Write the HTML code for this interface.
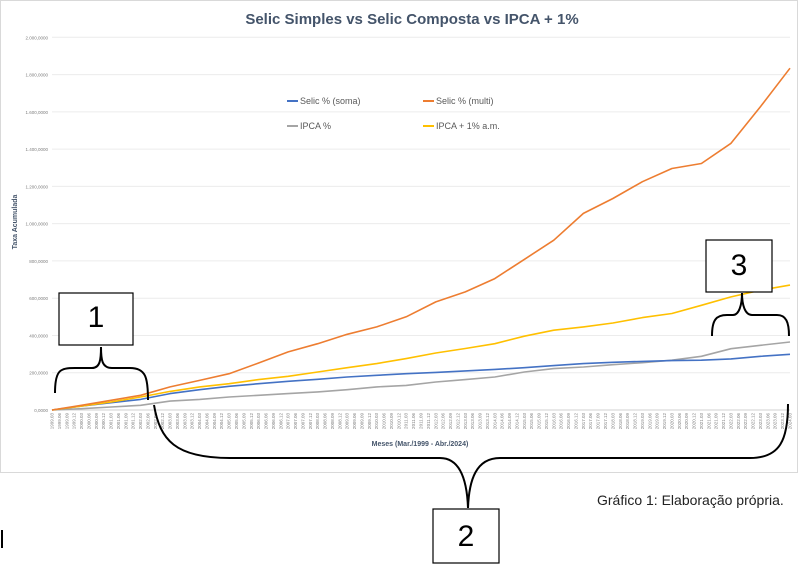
<!DOCTYPE html>
<html><head><meta charset="utf-8"><style>
body{margin:0;background:#fff;width:798px;height:568px;overflow:hidden;font-family:"Liberation Sans",sans-serif;}
svg{display:block}
</style></head><body>
<svg width="798" height="568">
<rect x="0.5" y="0.5" width="797" height="472" fill="#fff" stroke="#d9d9d9"/>
<text x="412" y="24" text-anchor="middle" font-size="15" font-weight="bold" fill="#44546a">Selic Simples vs Selic Composta vs IPCA + 1%</text>
<g id="grid"></g>
<g id="yticks"></g>
<g id="xticks"></g>
<g id="series"></g>
<text transform="translate(17,222) rotate(-90)" text-anchor="middle" font-size="7" font-weight="bold" fill="#44546a">Taxa Acumulada</text>
<text x="420" y="446" text-anchor="middle" font-size="7" font-weight="bold" fill="#44546a">Meses (Mar./1999 - Abr./2024)</text>
<g font-size="9" fill="#595959">
<g><line x1="287" y1="101" x2="298" y2="101" stroke="#4472c4" stroke-width="2"/><text x="300" y="104">Selic % (soma)</text></g>
<g><line x1="423" y1="101" x2="434" y2="101" stroke="#ed7d31" stroke-width="2"/><text x="436" y="104">Selic % (multi)</text></g>
<g><line x1="287" y1="126" x2="298" y2="126" stroke="#a5a5a5" stroke-width="2"/><text x="300" y="129">IPCA %</text></g>
<g><line x1="423" y1="126" x2="434" y2="126" stroke="#ffc000" stroke-width="2"/><text x="436" y="129">IPCA + 1% a.m.</text></g>
</g>
<g fill="none" stroke="#000" stroke-width="2">
<rect x="59" y="293" width="74" height="52" fill="#fff" stroke-width="1.2"/>
<path d="M55,393 C55,370 60,368 75,368 L92,368 C100,368 101,360 101,347 C101,360 102,368 112,368 L130,368 C146,368 148,378 148,400"/>
<rect x="433" y="509" width="66" height="54" fill="#fff" stroke-width="1.2"/>
<path d="M154,405 C160,440 175,458 230,458 L440,458 C460,458 467,480 468,508 C469,480 476,458 500,458 L750,458 C780,458 788,440 788,404"/>
<rect x="706" y="240" width="66" height="52" fill="#fff" stroke-width="1.2"/>
<path d="M712,336 C712,320 716,315 727,315 L733,315 C739,315 742,305 742,293 C742,305 745,315 752,315 L777,315 C786,315 789,322 789,336"/>
</g>
<text x="38" y="327" font-size="30" text-anchor="middle" transform="translate(58,0)">1</text>
<text x="466" y="546" font-size="30" text-anchor="middle">2</text>
<text x="739" y="275" font-size="30" text-anchor="middle">3</text>
<text x="597" y="505" font-size="14" fill="#222">Gráfico 1: Elaboração própria.</text>
<rect x="1" y="530" width="2" height="18" fill="#000"/>
</svg>
<script>
const yTicks=[0,200,400,600,800,1000,1200,1400,1600,1800,2000];
const yTickLabels=["0,0000","200,0000","400,0000","600,0000","800,0000","1.000,0000","1.200,0000","1.400,0000","1.600,0000","1.800,0000","2.000,0000"];
const years=[1999,2000,2001,2002,2003,2004,2005,2006,2007,2008,2009,2010,2011,2012,2013,2014,2015,2016,2017,2018,2019,2020,2021,2022,2023,2024];
const selicSoma=[0,21,39,57,88,109,127,141,154,165,177,186,195,202,210,218,227,238,249,256,261,265,267,274,288,299];
const selicMulti=[0,25,52,79,124,159,195,252,312,356,406,446,500,580,634,705,808,911,1055,1135,1225,1296,1323,1431,1628,1834];
const ipca=[0,7,16,25,48,57,70,79,88,97,109,124,132,150,163,177,204,222,231,243,254,267,288,329,347,365];
const ipcaPlus1=[0,21,43,70,100,124,141,163,181,204,227,249,276,306,330,356,396,428,446,467,496,518,562,607,643,670];
const x0=52,x1=790,yb=410,yt=37.3;
const nQ=(2024-1999)*4;
function xq(i){return x0+(x1-x0)*i/nQ;}
function xYear(y){return xq((y-1999)*4);}
function yv(v){return yb-(yb-yt)*v/2000;}
const NS="http://www.w3.org/2000/svg";
const grid=document.getElementById('grid'),yt_g=document.getElementById('yticks'),xt=document.getElementById('xticks'),ser=document.getElementById('series');
yTicks.forEach((t,i)=>{
 const l=document.createElementNS(NS,'line');
 l.setAttribute('x1',x0);l.setAttribute('x2',x1);l.setAttribute('y1',yv(t));l.setAttribute('y2',yv(t));
 l.setAttribute('stroke',i==0?'#d0d0d0':'#ececec');l.setAttribute('stroke-width','1');
 
 
 grid.appendChild(l);
 const tx=document.createElementNS(NS,'text');
 tx.setAttribute('x',x0-4);tx.setAttribute('y',yv(t)+2);tx.setAttribute('text-anchor','end');
 tx.setAttribute('font-size','4.5');tx.setAttribute('fill','#7f7f7f');tx.textContent=yTickLabels[i];
 
 
 yt_g.appendChild(tx);
});
const months=["03","06","09","12"];
for(let i=0;i<=nQ;i++){
 const yr=1999+Math.floor(i/4),m=months[i%4];
 const tx=document.createElementNS(NS,'text');
 const x=xq(i)+1.5;
 tx.setAttribute('transform','translate('+x+',413) rotate(-90)');
 tx.setAttribute('text-anchor','end');tx.setAttribute('font-size','4.5');tx.setAttribute('fill','#7f7f7f');
 tx.textContent=yr+'.'+m;
 
 
 xt.appendChild(tx);
}
function draw(vals,col,name){
 const p=document.createElementNS(NS,'polyline');
 p.setAttribute('points',vals.map((v,i)=>xYear(years[i]).toFixed(1)+','+yv(v).toFixed(1)).join(' '));
 p.setAttribute('fill','none');p.setAttribute('stroke',col);p.setAttribute('stroke-width','1.6');p.setAttribute('stroke-linejoin','round');
 
 
 ser.appendChild(p);
}
draw(ipca,'#a5a5a5','line-ipca');
draw(selicSoma,'#4472c4','line-selic-soma');
draw(ipcaPlus1,'#ffc000','line-ipca-plus-1');
draw(selicMulti,'#ed7d31','line-selic-multi');
</script>
</body></html>
